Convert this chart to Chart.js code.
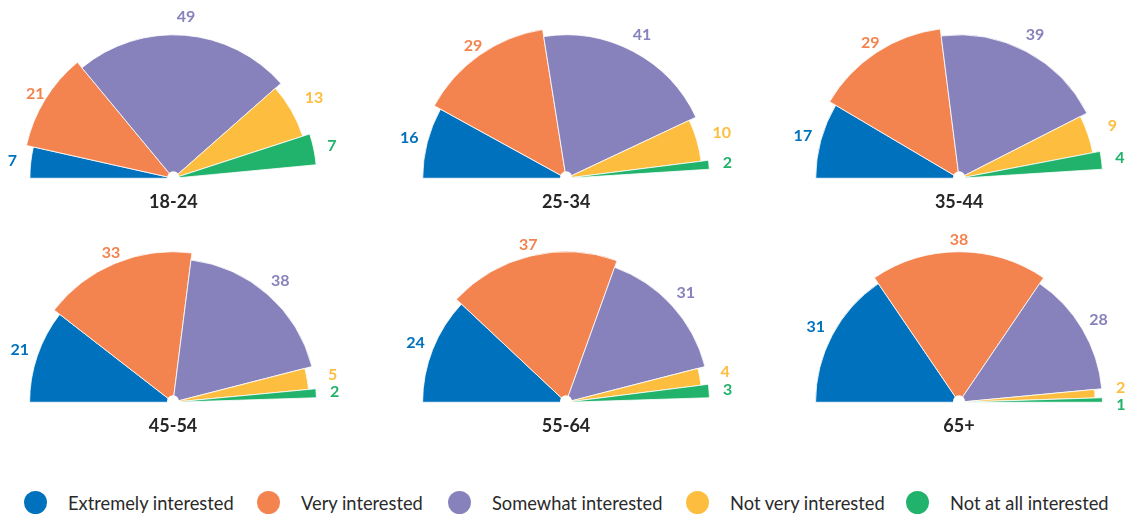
<!DOCTYPE html>
<html>
<head>
<meta charset="utf-8">
<script src="https://cdn.jsdelivr.net/npm/chart.js@4.4.1/dist/chart.umd.min.js"></script>
<style>
html,body{margin:0;padding:0;background:#fff;}
#wrap{position:relative;width:1129px;height:516px;overflow:hidden;font-family:Lato,"Open Sans",sans-serif;}
#wrap canvas{position:absolute;}
.lg{position:absolute;top:491px;height:23px;display:flex;align-items:center;font-size:18.3px;color:#2a2a2a;white-space:nowrap;}
.lg i{display:inline-block;width:23px;height:23px;border-radius:50%;margin-right:21px;flex:none;}
</style>
</head>
<body>
<div id="wrap"></div>
<script>
// ---- data ----
const ageGroups = ['18-24', '25-34', '35-44', '45-54', '55-64', '65+'];
const categories = ['Extremely interested', 'Very interested', 'Somewhat interested', 'Not very interested', 'Not at all interested'];
const extremelyInterested = [7, 16, 17, 21, 24, 31];
const veryInterested      = [21, 29, 29, 33, 37, 38];
const somewhatInterested  = [49, 41, 39, 38, 31, 28];
const notVeryInterested   = [13, 10, 9, 5, 4, 2];
const notAtAllInterested  = [7, 2, 4, 2, 3, 1];

// ---- styles / layout ----
const colors = ['#0071BC', '#F4844F', '#8782BC', '#FDBE3F', '#21B26B'];
const sliceLength = [0.953, 1, 0.953, 0.904, 0.953]; // decorative per-category radius factor
const centersX = [173, 566, 959];
const centersY = [178, 402];
const CW = 340, CH = 230, BASE_R = 150.5;
const legendLeft = [24, 257, 448, 686, 906];

const wrap = document.getElementById('wrap');

const semiRose = {
  id: 'semiRose',
  afterDatasetsUpdate(chart, args, opts) {
    const meta = chart.getDatasetMeta(0);
    const base = meta.controller.outerRadius;
    meta.data.forEach((arc, i) => { arc.outerRadius = base * opts.lengths[i]; });
  },
  afterDatasetsDraw(chart, args, opts) {
    const ctx = chart.ctx;
    const meta = chart.getDatasetMeta(0);
    const ds = chart.data.datasets[0];
    const cx = meta.data[0].x, cy = meta.data[0].y;
    ctx.save();
    ctx.beginPath();
    ctx.arc(cx, cy - 1, opts.hubRadius, 0, Math.PI * 2);
    ctx.fillStyle = '#fff';
    ctx.fill();
    // label positions along each slice's mid-angle
    const pos = meta.data.map(arc => {
      const mid = (arc.startAngle + arc.endAngle) / 2;
      return { x: cx + opts.labelRadius * Math.cos(mid), y: cy + opts.labelRadius * Math.sin(mid) };
    });
    // push apart labels that would collide
    for (let i = 1; i < pos.length; i++) {
      const a = pos[i - 1], b = pos[i];
      const dy = b.y - a.y;
      if (Math.abs(b.x - a.x) < 22 && Math.abs(dy) < opts.minGap) {
        const s = dy >= 0 ? 1 : -1;
        const need = opts.minGap - Math.abs(dy);
        a.y -= s * need / 2;
        b.y += s * need / 2;
      }
    }
    ctx.font = 'bold 16px Lato';
    ctx.textAlign = 'center';
    ctx.textBaseline = 'middle';
    pos.forEach((p, i) => {
      ctx.fillStyle = ds.backgroundColor[i];
      ctx.fillText(String(ds.data[i]), p.x, p.y);
    });
    ctx.font = 'bold 18px Lato';
    ctx.fillStyle = '#262626';
    ctx.fillText(opts.title, cx, cy + 24);
    ctx.restore();
  }
};

ageGroups.forEach((age, g) => {
  const values = [extremelyInterested[g], veryInterested[g], somewhatInterested[g], notVeryInterested[g], notAtAllInterested[g]];
  const total = values.reduce((a, b) => a + b, 0);
  const cv = document.createElement('canvas');
  cv.width = CW; cv.height = CH;
  cv.style.width = CW + 'px'; cv.style.height = CH + 'px';
  cv.style.left = (centersX[g % 3] - CW / 2) + 'px';
  cv.style.top = (centersY[Math.floor(g / 3)] - (CH / 2 + BASE_R / 2)) + 'px';
  wrap.appendChild(cv);
  new Chart(cv, {
    type: 'pie',
    data: {
      labels: categories,
      datasets: [{
        data: values,
        backgroundColor: colors,
        borderColor: '#ffffff',
        borderWidth: 0.8
      }]
    },
    options: {
      responsive: false,
      animation: false,
      events: [],
      rotation: -90,
      circumference: total * 1.8,
      radius: BASE_R,
      layout: { padding: 0 },
      plugins: {
        legend: { display: false },
        tooltip: { enabled: false },
        semiRose: { lengths: sliceLength, labelRadius: 162, hubRadius: 6, minGap: 17, title: age }
      }
    },
    plugins: [semiRose]
  });
});

categories.forEach((c, i) => {
  const d = document.createElement('div');
  d.className = 'lg';
  d.style.left = legendLeft[i] + 'px';
  const dot = document.createElement('i');
  dot.style.background = colors[i];
  d.appendChild(dot);
  d.appendChild(document.createTextNode(c));
  wrap.appendChild(d);
});
</script>
</body>
</html>
